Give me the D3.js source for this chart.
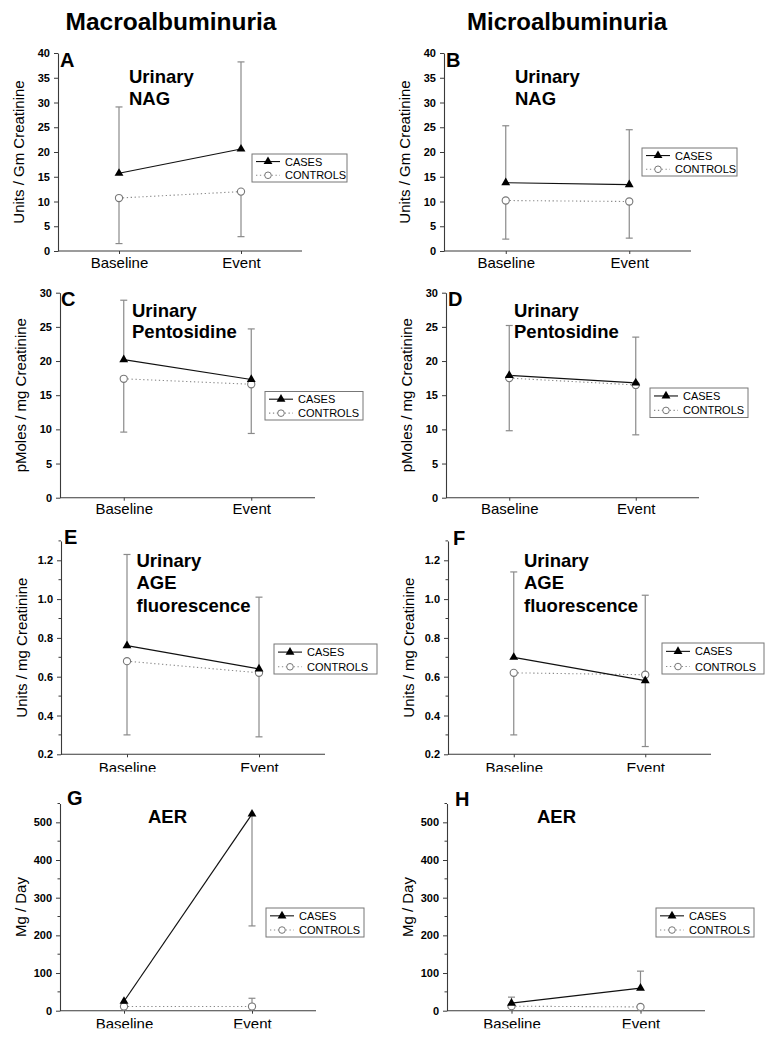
<!DOCTYPE html>
<html><head><meta charset="utf-8">
<script src="https://cdn.jsdelivr.net/npm/d3@7"></script>
<style>
body{margin:0;background:#fff;}
svg{display:block;font-family:"Liberation Sans",Arial,sans-serif;}
</style></head><body>
<svg id="chart" width="772" height="1050"></svg>
<script>
// ---------- data ----------
const categories = ["Baseline", "Event"];
const seriesNames = ["CASES", "CONTROLS"];
const columnTitles = ["Macroalbuminuria", "Microalbuminuria"];
const panelLetters = ["A", "B", "C", "D", "E", "F", "G", "H"];
const panelTitles = [
  ["Urinary", "NAG"], ["Urinary", "NAG"],
  ["Urinary", "Pentosidine"], ["Urinary", "Pentosidine"],
  ["Urinary", "AGE", "fluorescence"], ["Urinary", "AGE", "fluorescence"],
  ["AER"], ["AER"]
];
const yLabels = [
  "Units / Gm Creatinine", "Units / Gm Creatinine",
  "pMoles / mg Creatinine", "pMoles / mg Creatinine",
  "Units / mg Creatinine", "Units / mg Creatinine",
  "Mg / Day", "Mg / Day"
];
const yDomains = [[0, 40], [0, 40], [0, 30], [0, 30], [0.2, 1.3], [0.2, 1.3], [0, 550], [0, 550]];
const yMajorTicks = [
  [0, 5, 10, 15, 20, 25, 30, 35, 40], [0, 5, 10, 15, 20, 25, 30, 35, 40],
  [0, 5, 10, 15, 20, 25, 30], [0, 5, 10, 15, 20, 25, 30],
  [0.2, 0.4, 0.6, 0.8, 1.0, 1.2], [0.2, 0.4, 0.6, 0.8, 1.0, 1.2],
  [0, 100, 200, 300, 400, 500], [0, 100, 200, 300, 400, 500]
];
const yMinorTicks = [
  [], [], [], [],
  [0.3, 0.5, 0.7, 0.9, 1.1, 1.3], [0.3, 0.5, 0.7, 0.9, 1.1, 1.3],
  [50, 150, 250, 350, 450, 550], [50, 150, 250, 350, 450, 550]
];
const yTickFormats = ["d", "d", "d", "d", ".1f", ".1f", "d", "d"];

// means and error-bar end values per panel [Baseline, Event]
const casesMeans = [[15.7, 20.6], [13.8, 13.4], [20.2, 17.3], [17.9, 16.8], [0.76, 0.64], [0.70, 0.58], [25, 522], [20, 60]];
const casesErrEnds = [[29.1, 38.2], [25.3, 24.5], [28.9, 24.7], [25.2, 23.5], [1.23, 1.01], [1.14, 1.02], [null, 225], [36, 105]];
const controlsMeans = [[10.7, 12.0], [10.2, 10.0], [17.4, 16.6], [17.5, 16.5], [0.68, 0.62], [0.62, 0.61], [11, 11], [12, 10]];
const controlsErrEnds = [[1.5, 2.9], [2.4, 2.6], [9.6, 9.4], [9.8, 9.2], [0.30, 0.29], [0.30, 0.24], [null, 33], [null, null]];

// ---------- layout (pixel positions, not data) ----------
const layout = [
  {l: 58,  r: 302, t: 53,    b: 251,   letter: [60, 67],   title: [129, 83, 22],  legend: [252, 154, 95, 28],  clip: false},
  {l: 444, r: 691, t: 53,    b: 251,   letter: [446, 67],  title: [515, 83, 22],  legend: [642, 148, 95, 28],  clip: false},
  {l: 60,  r: 315, t: 292.7, b: 497.7, letter: [61, 306],  title: [132, 316.5, 21.8], legend: [265, 391.5, 98, 28.5], clip: false},
  {l: 446, r: 699, t: 292.7, b: 497.7, letter: [448, 306], title: [514, 316.5, 21.8], legend: [650, 388, 98, 29.5], clip: false},
  {l: 61,  r: 325, t: 540.9, b: 754.3, letter: [64, 544],  title: [136.5, 566.5, 22.5], legend: [274, 644, 103, 30], clip: true},
  {l: 448, r: 711, t: 540.9, b: 754.3, letter: [453, 545], title: [524, 566.5, 22.5], legend: [662, 643, 102, 31], clip: true},
  {l: 60,  r: 316, t: 803.5, b: 1010.7, letter: [67, 805],  title: [148, 823, 0],  legend: [266, 908, 98, 29], clip: true},
  {l: 447, r: 705, t: 803.5, b: 1010.7, letter: [455, 806], title: [537, 823, 0],  legend: [656, 908, 98, 29], clip: true}
];

const svg = d3.select("#chart");
const defs = svg.append("defs");
const axisColor = "#3a3a3a";
const errColor = "#8a8a8a";
const ctrlColor = "#8a8a8a";
const tri = d3.symbol().type(d3.symbolTriangle).size(34);

// column titles
svg.append("text").attr("x", 171).attr("y", 30).attr("text-anchor", "middle")
  .attr("font-size", 24.5).attr("font-weight", "bold").text(columnTitles[0]);
svg.append("text").attr("x", 567).attr("y", 30).attr("text-anchor", "middle")
  .attr("font-size", 24).attr("font-weight", "bold").text(columnTitles[1]);

layout.forEach((L, i) => {
  const g = svg.append("g");
  const x = d3.scalePoint().domain(categories).range([L.l, L.r]).padding(0.5);
  const y = d3.scaleLinear().domain(yDomains[i]).range([L.b, L.t]);

  // y axis major
  const yAxis = d3.axisLeft(y).tickValues(yMajorTicks[i]).tickSize(4).tickSizeOuter(0)
    .tickPadding(4).tickFormat(d3.format(yTickFormats[i]));
  const ya = g.append("g").attr("transform", `translate(${L.l},0)`).call(yAxis);
  ya.select(".domain").attr("stroke", axisColor).attr("stroke-width", 1.1);
  ya.selectAll(".tick line").attr("stroke", axisColor).attr("stroke-width", 1);
  ya.selectAll(".tick text").attr("font-size", 11).attr("font-weight", "bold")
    .attr("font-family", "'Liberation Sans', Arial, sans-serif").attr("fill", "#000");
  // minor ticks
  g.append("g").selectAll("line").data(yMinorTicks[i]).join("line")
    .attr("x1", L.l - 2.5).attr("x2", L.l).attr("y1", d => y(d)).attr("y2", d => y(d))
    .attr("stroke", axisColor).attr("stroke-width", 1);

  // x axis
  const xAxis = d3.axisBottom(x).tickSize(3).tickSizeOuter(0).tickPadding(L.clip ? 5 : 3);
  const xa = g.append("g").attr("transform", `translate(0,${L.b})`).call(xAxis);
  xa.select(".domain").attr("d", `M${L.l},0H${L.r}`).attr("stroke", axisColor).attr("stroke-width", 1.1);
  xa.selectAll(".tick line").attr("stroke", axisColor);
  xa.selectAll(".tick text").attr("font-size", 15).attr("fill", "#000")
    .attr("font-family", "'Liberation Sans', Arial, sans-serif");
  if (L.clip) {
    const id = "clip" + i;
    defs.append("clipPath").attr("id", id).append("rect")
      .attr("x", L.l - 60).attr("y", L.b - 5).attr("width", L.r - L.l + 120).attr("height", 22.5);
    xa.attr("clip-path", null);
    const wrap = g.append("g").attr("clip-path", `url(#${id})`);
    wrap.node().appendChild(xa.node());
  }

  // y label
  const ylx = L.l - 34;
  g.append("text").attr("transform", `translate(${ylx},${(L.t + L.b) / 2}) rotate(-90)`)
    .attr("text-anchor", "middle").attr("font-size", 15).attr("fill", "#000").text(yLabels[i]);

  // panel letter
  g.append("text").attr("x", L.letter[0]).attr("y", L.letter[1]).attr("font-size", 20)
    .attr("font-weight", "bold").text(panelLetters[i]);

  // panel title
  panelTitles[i].forEach((t, k) => {
    g.append("text").attr("x", L.title[0]).attr("y", L.title[1] + k * L.title[2])
      .attr("font-size", 18.5).attr("font-weight", "bold").text(t);
  });

  // error bars
  const drawErr = (means, ends, color) => {
    categories.forEach((c, j) => {
      const e = ends[j];
      if (e === null || e === undefined) return;
      const cx = x(c);
      g.append("line").attr("x1", cx).attr("x2", cx).attr("y1", y(means[j])).attr("y2", y(e))
        .attr("stroke", color).attr("stroke-width", 1.2);
      g.append("line").attr("x1", cx - 3.5).attr("x2", cx + 3.5).attr("y1", y(e)).attr("y2", y(e))
        .attr("stroke", color).attr("stroke-width", 1.2);
    });
  };
  drawErr(casesMeans[i], casesErrEnds[i], errColor);
  drawErr(controlsMeans[i], controlsErrEnds[i], errColor);

  const line = d3.line().x((d, j) => x(categories[j])).y(d => y(d));
  // controls line
  g.append("path").attr("d", line(controlsMeans[i])).attr("fill", "none")
    .attr("stroke", ctrlColor).attr("stroke-width", 1.1).attr("stroke-dasharray", "1.3,2.6");
  // cases line
  g.append("path").attr("d", line(casesMeans[i])).attr("fill", "none")
    .attr("stroke", "#111").attr("stroke-width", 1.2);
  // controls markers
  g.selectAll(".ctl").data(controlsMeans[i]).join("circle")
    .attr("cx", (d, j) => x(categories[j])).attr("cy", d => y(d)).attr("r", 3.6)
    .attr("fill", "#fff").attr("stroke", "#777").attr("stroke-width", 1.1);
  // cases markers
  g.selectAll(".cs").data(casesMeans[i]).join("path")
    .attr("d", tri).attr("transform", (d, j) => `translate(${x(categories[j])},${y(d)})`)
    .attr("fill", "#000");

  // legend
  const [lx, ly, lw, lh] = L.legend;
  const lg = g.append("g").attr("transform", `translate(${lx},${ly})`);
  lg.append("rect").attr("width", lw).attr("height", lh).attr("fill", "#fff")
    .attr("stroke", "#777").attr("stroke-width", 1);
  const r1 = lh * 0.27, r2 = lh * 0.76;
  lg.append("line").attr("x1", 4).attr("x2", 28).attr("y1", r1).attr("y2", r1).attr("stroke", "#111").attr("stroke-width", 1.1);
  lg.append("path").attr("d", tri).attr("transform", `translate(16,${r1})`).attr("fill", "#000");
  lg.append("line").attr("x1", 4).attr("x2", 28).attr("y1", r2).attr("y2", r2).attr("stroke", ctrlColor)
    .attr("stroke-width", 1.1).attr("stroke-dasharray", "1.3,2.6");
  lg.append("circle").attr("cx", 16).attr("cy", r2).attr("r", 3.3).attr("fill", "#fff").attr("stroke", "#777");
  [seriesNames[0], seriesNames[1]].forEach((s, k) => {
    lg.append("text").attr("x", 33).attr("y", (k === 0 ? r1 : r2) + 4).attr("font-size", 11)
      .attr("fill", "#000").text(s);
  });
});
</script>
</body></html>
